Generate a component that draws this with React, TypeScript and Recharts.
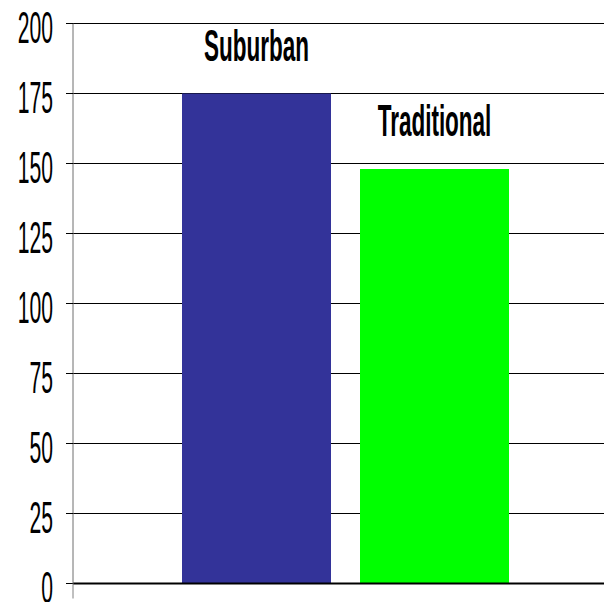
import { BarChart, Bar, XAxis, YAxis, CartesianGrid, ReferenceLine } from "recharts";

const categories = ["Homes"];
const seriesNames = ["Suburban", "Traditional"];
const suburbanValues = [175];
const traditionalValues = [148];
const yTicks = [0, 25, 50, 75, 100, 125, 150, 175, 200];

const data = categories.map((name, i) => ({
  name,
  suburban: suburbanValues[i],
  traditional: traditionalValues[i],
}));

const FONT = '"Liberation Sans", Arial, sans-serif';
const TICK_SIZE = 7;
const TICK_MARGIN = 2;

// tall, narrow numbers on the value axis
function ValueTick(props: any) {
  const { x, y, payload } = props;
  const axisX = x + TICK_SIZE + TICK_MARGIN;
  return (
    <g>
      {payload.value === 0 && (
        <line x1={axisX} y1={y} x2={axisX} y2={y + 15} stroke="#808080" strokeWidth={1} />
      )}
      <g transform={`translate(${axisX - 20}, ${y + 19}) scale(0.47, 1)`}>
        <text textAnchor="end" fontFamily={FONT} fontSize={45} fill="#000">
          {payload.value}
        </text>
      </g>
    </g>
  );
}

// series name written above its bar
function seriesLabel(name: string) {
  return (props: any) => {
    const { x, y, width } = props;
    return (
      <g transform={`translate(${x + width / 2}, ${y - 33}) scale(0.5, 1)`}>
        <text textAnchor="middle" fontFamily={FONT} fontWeight="bold" fontSize={45} fill="#000">
          {name}
        </text>
      </g>
    );
  };
}

export default function App() {
  return (
    <div
      style={{
        position: "absolute",
        left: 0,
        top: 0,
        width: 604,
        height: 602,
        overflow: "hidden",
        background: "#fff",
      }}
    >
      <BarChart
        width={640}
        height={602}
        data={data}
        margin={{ top: 23.5, right: 22, bottom: 18.5, left: 0 }}
        barSize={149}
        barGap={29}
      >
        <CartesianGrid vertical={false} stroke="#000" strokeWidth={1} />
        <XAxis dataKey="name" hide />
        <YAxis
          width={73}
          domain={[0, 200]}
          ticks={yTicks}
          interval={0}
          tickSize={TICK_SIZE}
          tickMargin={TICK_MARGIN}
          tickLine={{ stroke: "#000" }}
          axisLine={{ stroke: "#6e6e6e" }}
          tick={<ValueTick />}
        />
        <ReferenceLine y={0} stroke="#000" strokeWidth={2} />
        <Bar
          dataKey="suburban"
          name={seriesNames[0]}
          fill="#333399"
          isAnimationActive={false}
          label={seriesLabel(seriesNames[0])}
        />
        <Bar
          dataKey="traditional"
          name={seriesNames[1]}
          fill="#00FF00"
          isAnimationActive={false}
          label={seriesLabel(seriesNames[1])}
        />
      </BarChart>
    </div>
  );
}
